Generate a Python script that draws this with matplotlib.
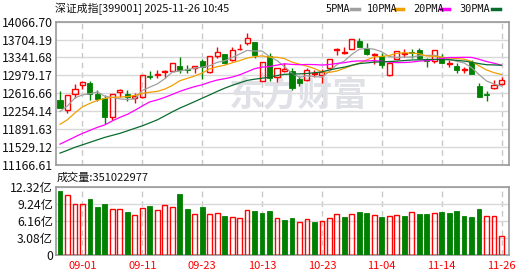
import matplotlib
matplotlib.use("Agg")
import matplotlib.pyplot as plt
from matplotlib.lines import Line2D
import numpy as np
import pandas as pd

plt.rcParams['font.family'] = ['Noto Sans CJK SC', 'DejaVu Sans']

title = "深证成指[399001] 2025-11-26 10:45"
vol_title = "成交量:351022977"

# daily candles, 2025-08-27 .. 2025-11-26
opens = [12479, 12270, 12594, 12777, 12824, 12594, 12525, 12128, 12641, 12594,
         12525, 12540, 12955, 12980, 13041, 13073, 13162, 13097, 13122, 13264,
         13053, 13365, 13406, 13290, 13507, 13625, 13649, 12858, 13371, 12945,
         13073, 13067, 12895, 12884, 13006, 12986, 13122, 13483, 13438, 13507,
         13675, 13523, 13385, 13371, 12976, 13304, 13412, 13446, 13493, 13300,
         13264, 13351, 13209, 13168, 13081, 13239, 12763, 12600, 12716, 12793]
highs = [12667, 12574, 12803, 12864, 12864, 12682, 12580, 12601, 12702, 12672,
         12621, 12980, 13073, 13087, 13077, 13230, 13345, 13179, 13162, 13300,
         13371, 13554, 13412, 13558, 13604, 13832, 13660, 13250, 13422, 13128,
         13219, 13122, 12955, 13118, 13087, 13097, 13310, 13539, 13560, 13715,
         13726, 13629, 13422, 13426, 13239, 13478, 13507, 13517, 13527, 13337,
         13493, 13418, 13280, 13229, 13154, 13290, 12824, 12665, 12884, 12939]
lows = [12306, 12209, 12519, 12696, 12479, 12459, 11992, 12073, 12546, 12459,
        12424, 12509, 12905, 12931, 12925, 13065, 13016, 13032, 13020, 12895,
        13026, 13331, 13213, 13270, 13483, 13584, 13331, 12854, 12864, 12838,
        13047, 12682, 12753, 12854, 12945, 12824, 13118, 13381, 13402, 13503,
        13544, 13381, 13199, 13122, 12970, 13300, 13351, 13331, 13310, 13142,
        13235, 13229, 13154, 13032, 13026, 12996, 12540, 12465, 12692, 12783]
closes = [12311, 12574, 12696, 12844, 12594, 12493, 12128, 12594, 12682, 12540,
          12554, 12980, 12935, 13006, 13067, 13223, 13093, 13081, 13162, 13154,
          13365, 13446, 13235, 13487, 13519, 13730, 13381, 13243, 12919, 13122,
          13101, 12712, 12830, 13087, 13032, 13037, 13304, 13507, 13458, 13710,
          13554, 13402, 13412, 13195, 13229, 13473, 13426, 13426, 13325, 13260,
          13493, 13235, 13235, 13087, 13101, 13000, 12546, 12580, 12783, 12884]

# volume in 亿, and its colour (R = up, G = down) as drawn
volumes = [11.55, 10.82, 9.20, 9.20, 10.10, 8.66, 9.20, 8.30, 8.30, 7.76,
           7.22, 8.48, 8.84, 8.12, 9.02, 8.66, 11.00, 8.30, 7.40, 8.66,
           7.40, 7.58, 7.04, 6.86, 6.67, 8.12, 7.94, 7.58, 7.94, 6.67,
           6.31, 6.67, 5.95, 6.43, 5.95, 6.13, 6.61, 7.40, 6.86, 7.40,
           7.76, 7.58, 7.16, 6.86, 7.04, 7.16, 7.04, 7.70, 7.40, 7.40,
           7.52, 7.76, 7.58, 7.94, 7.04, 6.86, 8.30, 7.04, 7.04, 3.51]
vol_dir = "GRRRGGGRRGRRGRRRGGRGRRGRRRGGGRGGRRGRRRGRGGRGRRGRGGRGGGGGGRRR"

# moving-average values before enough closes are on screen
ma_lead = {
    5: [12242, 12357, 12519, 12580],
    10: [11982, 12077, 12215, 12337, 12408, 12469, 12509, 12530, 12536],
    20: [11580, 11653, 11728, 11799, 11860, 11921, 11972, 12053, 12124, 12185,
         12266, 12357, 12438, 12479, 12530, 12590, 12651, 12702, 12749],
    30: [11398, 11455, 11516, 11566, 11617, 11668, 11718, 11759, 11799, 11850,
         11901, 11952, 12012, 12073, 12154, 12235, 12311, 12377, 12444, 12513,
         12580, 12651, 12716, 12773, 12824, 12874, 12899, 12919, 12939],
}
ma_colors = {5: '#a0a0a0', 10: '#f0a000', 20: '#ff00ff', 30: '#0a6b2f'}

price_ticks = [11166.61, 11529.12, 11891.63, 12254.14, 12616.66,
               12979.17, 13341.68, 13704.19, 14066.70]
vol_ticks = [0, 3.08, 6.16, 9.24, 12.32]
vol_tick_labels = ["0", "3.08亿", "6.16亿", "9.24亿", "12.32亿"]
date_pos = [3, 11, 19, 27, 35, 43, 51, 59]
date_labels = ["09-01", "09-11", "09-23", "10-13", "10-23", "11-04", "11-14", "11-26"]

RED = '#ff0000'
GREEN = '#008000'
W, H = 530, 276

o = np.array(opens, float)
h = np.array(highs, float)
l = np.array(lows, float)
c = np.array(closes, float)
x = np.arange(len(c))
up = c >= o

fig = plt.figure(figsize=(W / 100, H / 100), dpi=100)
ax = fig.add_axes([55.5 / W, 1 - 164.5 / H, 453.5 / W, 142.8 / H])
axv = fig.add_axes([55.5 / W, 1 - 255.3 / H, 453.5 / W, 68.6 / H])

for a in (ax, axv):
    a.set_xlim(-0.6, 60.0)
    for s in a.spines.values():
        s.set_color('#999999')
        s.set_linewidth(1.2)
    a.set_xticks(date_pos)
    a.tick_params(length=0)
    a.grid(axis='y', color='#d8d8d8', lw=1, zorder=0)
    a.grid(axis='x', color='#c8c8c8', lw=1, linestyle=(0, (4, 3)), zorder=0)
    a.set_axisbelow(True)

# watermark
ax.text(0.536, 0.49, "东方财富", transform=ax.transAxes, fontsize=25,
        fontweight='bold', color='#e0e0e7', ha='center', va='center', zorder=1)

# candles
body_lo = np.minimum(o, c)
body_hi = np.maximum(o, c)
body_h = np.maximum(body_hi - body_lo, 8)
cols = np.where(up, RED, GREEN)
ax.vlines(x, l, body_lo, colors=cols, lw=1, zorder=2)
ax.vlines(x, body_hi, h, colors=cols, lw=1, zorder=2)
ax.bar(x[up], body_h[up], bottom=body_lo[up], width=0.68, facecolor='none',
       edgecolor=RED, lw=1, zorder=3)
ax.bar(x[~up], body_h[~up], bottom=body_lo[~up], width=0.68, facecolor=GREEN,
       edgecolor=GREEN, lw=0.6, zorder=3)

# moving averages
for n, lead in ma_lead.items():
    ma = pd.Series(c).rolling(n).mean().to_numpy()
    ma[:n - 1] = lead
    ax.plot(x, ma, color=ma_colors[n], lw=0.9, zorder=4)

ax.set_ylim(price_ticks[0], price_ticks[-1])
ax.set_yticks(price_ticks)
ax.set_yticklabels(["%.2f" % v for v in price_ticks], fontsize=8.8, color='#111111')
ax.tick_params(axis='y', pad=1.8)
ax.set_xticklabels([])

# volume
vols = np.array(volumes)
vup = np.array([d == 'R' for d in vol_dir])
axv.bar(x[vup], vols[vup], width=0.64, facecolor='none', edgecolor=RED, lw=1, zorder=3)
axv.bar(x[~vup], vols[~vup], width=0.64, facecolor=GREEN, edgecolor=GREEN, lw=0.6, zorder=3)
axv.set_ylim(0, 12.32)
axv.set_yticks(vol_ticks)
axv.set_yticklabels(vol_tick_labels, fontsize=8.8, color='#111111')
axv.tick_params(axis='y', pad=1.8)
axv.set_xticklabels(date_labels, fontsize=8, color=RED)
axv.tick_params(axis='x', pad=4)

# header texts
fig.text(55 / W, 1 - 8.5 / H, title, fontsize=7.8, ha='left', va='center', color='#111111')
fig.text(56.5 / W, 1 - 177.5 / H, vol_title, fontsize=8, ha='left', va='center', color='#111111')

legend = [("5PMA", 325, 351, 5), ("10PMA", 367, 395, 10),
          ("20PMA", 412.7, 441, 20), ("30PMA", 459, 492, 30)]
for label, tx, mx, n in legend:
    fig.text(tx / W, 1 - 8.5 / H, label, fontsize=7.4, family='DejaVu Sans Mono',
             ha='left', va='center', color='#111111')
    fig.add_artist(Line2D([mx / W, (mx + 8) / W], [1 - 8.5 / H, 1 - 8.5 / H],
                          color=ma_colors[n], lw=2.5, transform=fig.transFigure))

fig.savefig("out.png", dpi=100)
